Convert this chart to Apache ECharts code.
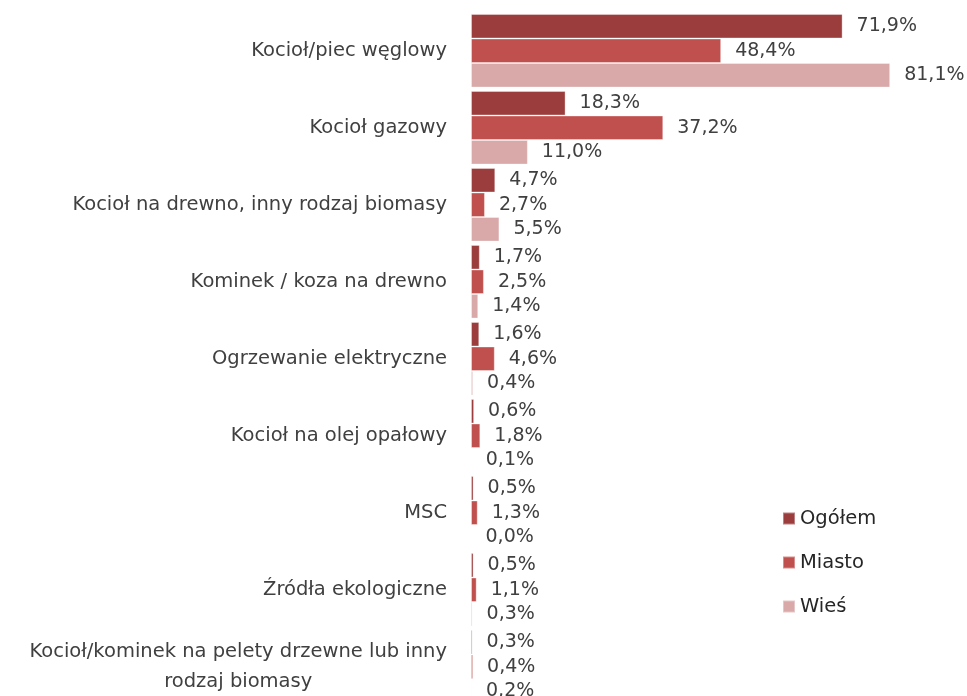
<!DOCTYPE html>
<html>
<head>
<meta charset="utf-8">
<script src="https://cdn.jsdelivr.net/npm/echarts@6/dist/echarts.min.js"></script>
<style>
html,body{margin:0;padding:0;background:#fff;}
#chart{width:967px;height:696px;}
</style>
</head>
<body>
<div id="chart"></div>
<script>
var categories = [
  'Kocioł/piec węglowy',
  'Kocioł gazowy',
  'Kocioł na drewno, inny rodzaj biomasy',
  'Kominek / koza na drewno',
  'Ogrzewanie elektryczne',
  'Kocioł na olej opałowy',
  'MSC',
  'Źródła ekologiczne',
  'Kocioł/kominek na pelety drzewne lub inny\nrodzaj biomasy'
];
var seriesNames = ['Ogółem', 'Miasto', 'Wieś'];
var ogolem = [71.9, 18.3, 4.7, 1.7, 1.6, 0.6, 0.5, 0.5, 0.3];
var miasto = [48.4, 37.2, 2.7, 2.5, 4.6, 1.8, 1.3, 1.1, 0.4];
var wies   = [81.1, 11.0, 5.5, 1.4, 0.4, 0.1, 0.0, 0.3, 0.2];

var colors = ['#9C3D3D', '#C0504D', '#D9A8A8'];
var FONT = '"DejaVu Sans", sans-serif';

function fmt(p) {
  return p.value.toFixed(1).replace('.', ',') + '%';
}

var dataSets = [ogolem, miasto, wies];
var series = dataSets.map(function (d, i) {
  return {
    name: seriesNames[i],
    type: 'bar',
    data: d,
    barGap: '0%',
    barCategoryGap: '4.5%',
    itemStyle: { color: colors[i], borderColor: 'rgba(255,255,255,0.35)', borderWidth: 1 },
    label: {
      show: true,
      position: 'right',
      distance: 14,
      formatter: fmt,
      color: '#404040',
      fontSize: 19,
      fontFamily: FONT
    }
  };
});

var chart = echarts.init(document.getElementById('chart'), null, { renderer: 'canvas' });
chart.setOption({
  animation: false,
  color: colors,
  grid: { left: 471, right: 5, top: 12.25, height: 693, containLabel: false, outerBoundsMode: 'none' },
  legend: {
    orient: 'vertical',
    left: 777,
    top: 499,
    itemWidth: 12,
    itemHeight: 12,
    itemGap: 15,
    icon: 'rect',
    data: seriesNames,
    textStyle: { color: '#262626', fontSize: 19.5, fontFamily: FONT, lineHeight: 29 }
  },
  xAxis: {
    type: 'value',
    min: 0,
    max: 95,
    show: false
  },
  yAxis: {
    type: 'category',
    inverse: true,
    data: categories,
    axisLine: { show: false },
    axisTick: { show: false },
    axisLabel: {
      margin: 24,
      color: '#404040',
      fontSize: 19.5,
      fontFamily: FONT,
      formatter: function (v) { return '{c|' + v + '}'; },
      rich: {
        c: { align: 'center', color: '#404040', fontSize: 19.5, fontFamily: FONT, lineHeight: 30 }
      }
    }
  },
  series: series
});
</script>
</body>
</html>
